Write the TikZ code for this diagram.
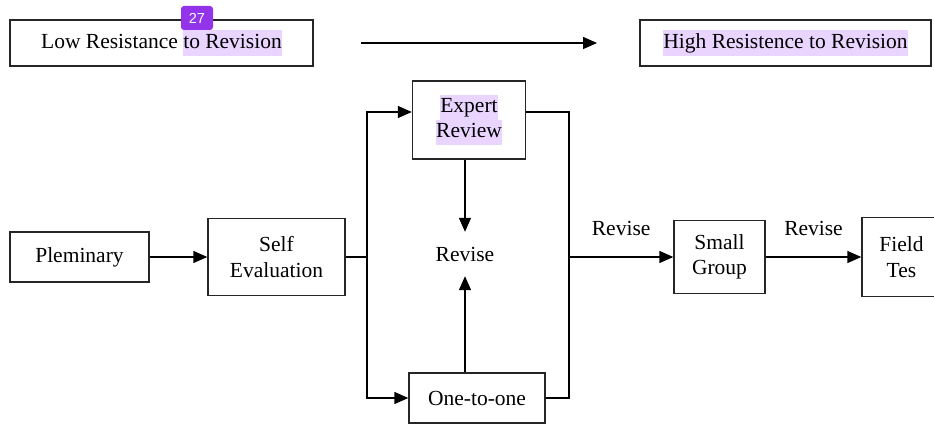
\documentclass[tikz,border=0pt]{standalone}
\usepackage{fontspec}
\setmainfont{Liberation Serif}
\newfontfamily\badgefont{Liberation Sans}
\usetikzlibrary{arrows.meta,positioning}
\definecolor{hilite}{RGB}{233,213,255}
\definecolor{badgepurple}{RGB}{147,51,234}
\newcommand{\hlt}[1]{{\setlength{\fboxsep}{0pt}\colorbox{hilite}{\strut #1}}}
\tikzset{
  boxnode/.style={draw=black!85, rectangle, line width=1.4pt, align=center, inner sep=0pt, font=\fontsize{21.5}{25.5}\selectfont},
  arrow/.style={-{Triangle[length=14pt,width=12pt]}, line width=1.4pt},
  line/.style={line width=1.4pt},
  revlabel/.style={font=\fontsize{21.5}{25.5}\selectfont, yshift=29pt}
}

\begin{document}
\begin{tikzpicture}[x=1pt, y=1pt]
  \useasboundingbox (0,0) rectangle (934,424);
  % resistance scale
  \node [boxnode, minimum width=303pt, minimum height=46pt] (low) at (161.5,381) {Low Resistance \hlt{to Revision}};
  \node [boxnode, minimum width=291pt, minimum height=46pt] (high) at (785.5,381) {\hlt{High Resistence to Revision}};
  \coordinate (scaleL) at (361,381);
  \coordinate (scaleR) at (597,381);
  \draw [arrow] (scaleL) -- (scaleR);
  \node [fill=badgepurple, rounded corners=3pt, text=white, font=\badgefont\fontsize{14.5}{16}\selectfont, minimum width=32pt, minimum height=24pt, inner sep=0pt] (badge) at (197,406) {27};

  % revision stages
  \node [boxnode, minimum width=139pt, minimum height=50pt] (plem) at (79.5,167) {Pleminary};
  \node [boxnode, minimum width=137pt, minimum height=77pt] (self) at (276.5,167) {Self\\Evaluation};
  \node [boxnode, minimum width=113pt, minimum height=78pt] (expert) at (469,304) {\hlt{Expert}\\\hlt{Review}};
  \node [boxnode, minimum width=136pt, minimum height=50pt] (one) at (477,26) {One-to-one};
  \node [font=\fontsize{21.5}{25.5}\selectfont, minimum height=44pt, inner sep=0pt] (revise) at (465,170) {Revise};
  \node [boxnode, minimum width=91pt, minimum height=73pt] (small) at (719.5,167) {Small\\Group};
  \node [boxnode, minimum width=79pt, minimum height=79pt] (field) at (901.5,167) {Field\\Tes};

  \coordinate (split) at (367,167);
  \coordinate (merge) at (569,167);

  \draw [arrow] (plem) -- (self);
  \draw [line] (self.east) -- (split);
  \draw [arrow] (split) |- ([yshift=8pt]expert.west);
  \draw [arrow] (split) |- (one.west);
  \draw [arrow] (expert.south -| revise) -- (revise.north);
  \draw [arrow] (one.north -| revise) -- (revise.south);
  \draw [line] ([yshift=8pt]expert.east) -| (merge);
  \draw [line] (one.east) -| (merge);
  \draw [arrow] (merge) -- (small) node [midway, revlabel] {Revise};
  \draw [arrow] (small) -- (field) node [midway, revlabel] {Revise};
\end{tikzpicture}
\end{document}
